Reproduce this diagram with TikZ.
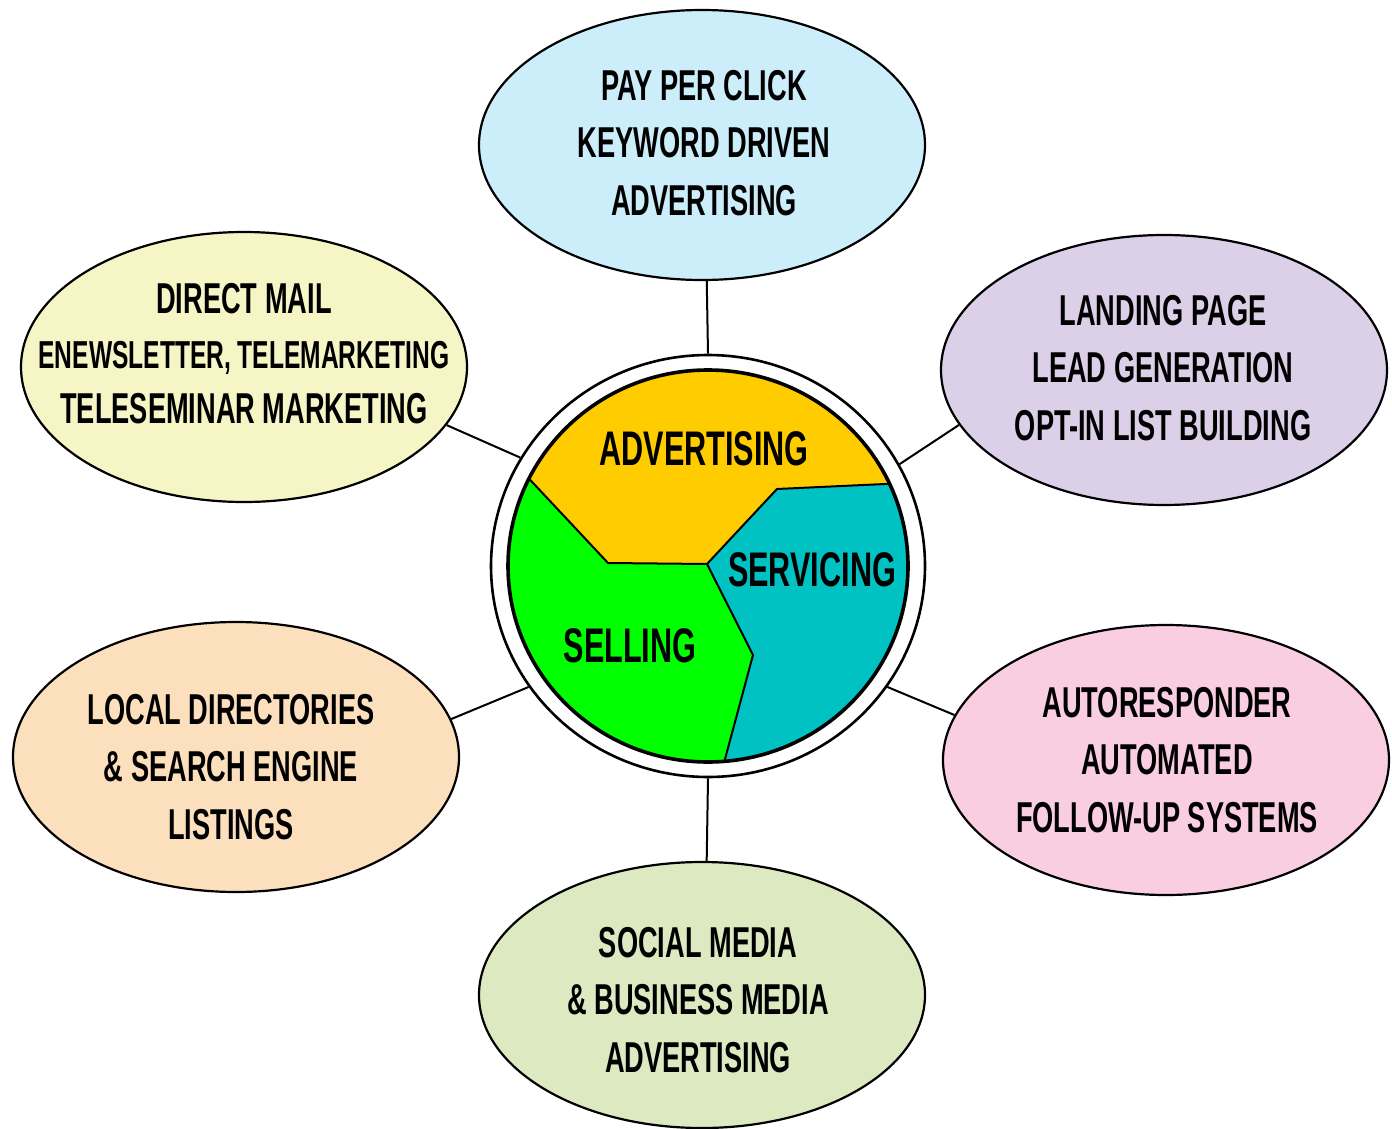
\documentclass[tikz,border=0pt]{standalone}
\usepackage{fontspec}
\newfontfamily\cf[FakeStretch=0.63]{Liberation Sans}
\usetikzlibrary{shapes.geometric}
\definecolor{cTop}{HTML}{CCEEFB}
\definecolor{cUL}{HTML}{F5F5C5}
\definecolor{cUR}{HTML}{DCD0E8}
\definecolor{cLL}{HTML}{FCE0BE}
\definecolor{cLR}{HTML}{F9CEE0}
\definecolor{cBot}{HTML}{DDE9C1}
\definecolor{cAdv}{HTML}{FFCC00}
\definecolor{cServ}{HTML}{00C2C2}
\definecolor{cSell}{HTML}{00FF00}
\tikzset{
 bubble/.style={ellipse, draw=black, line width=1.1pt, inner sep=0pt, minimum width=223pt, minimum height=135pt},
 btext/.style={align=center, inner sep=0pt, font=\cf\bfseries\fontsize{21.6}{28.75}\selectfont},
 hubtext/.style={inner sep=0pt, font=\cf\bfseries\fontsize{24.3}{28}\selectfont},
 link/.style={line width=1pt},
 divider/.style={line width=1pt, line join=round}
}
\begin{document}
\begin{tikzpicture}[x=0.5pt,y=-0.5pt]
\useasboundingbox (0,0) rectangle (1392,1129);
% outer bubbles
\node[bubble, fill=cTop] (top) at (702,145) {};
\node[bubble, fill=cUL] (ul) at (244,367) {};
\node[bubble, fill=cUR] (ur) at (1164,370) {};
\node[bubble, fill=cLL] (ll) at (236,757) {};
\node[bubble, fill=cLR] (lr) at (1166,760) {};
\node[bubble, fill=cBot, minimum height=133pt] (bot) at (702,995) {};
% hub
\node[ellipse, draw=black, line width=1.3pt, fill=white, inner sep=0pt, minimum width=217pt, minimum height=211pt] (hub) at (708,566) {};
% pie
\begin{scope}
\clip (708,566) ellipse [x radius=200, y radius=196];
\fill[cAdv] (500,360) rectangle (920,780);
\fill[cSell] (490,437) -- (608,563) -- (707,564) -- (753,655) -- (714,800) -- (460,800) -- (460,437) -- cycle;
\fill[cServ] (707,564) -- (777,489) -- (885,484) -- (940,481) -- (940,800) -- (714,800) -- (753,655) -- cycle;
\draw[divider] (490,437) -- (608,563) -- (707,564) -- (777,489) -- (885,484) -- (940,481);
\draw[divider] (707,564) -- (753,655) -- (714,800);
\end{scope}
\draw[line width=1.8pt] (708,566) ellipse [x radius=200, y radius=196];
% connectors
\draw[link] (top.-88) -- (hub.90);
\draw[link] (bot.88) -- (hub.-90);
\draw[link] (ul.-16.7) -- (hub.150.6);
\draw[link] (ur.195.2) -- (hub.28.9);
\draw[link] (ll.10.7) -- (hub.214.4);
\draw[link] (lr.168.3) -- (hub.-34.6);
% texts
\node[btext] (ttop) at (704,143) {PAY PER CLICK\\KEYWORD DRIVEN\\ADVERTISING};
\node[btext, font=\cf\bfseries\fontsize{21.6}{27.5}\selectfont] (tul) at (244,354) {DIRECT MAIL\\{\fontsize{19.5}{27.5}\selectfont ENEWSLETTER, TELEMARKETING}\\TELESEMINAR MARKETING};
\node[btext] (tur) at (1163,368) {LANDING PAGE\\LEAD GENERATION\\OPT-IN LIST BUILDING};
\node[btext] (tll) at (231,767) {LOCAL DIRECTORIES\\\& SEARCH ENGINE\\LISTINGS};
\node[btext] (tlr) at (1167,760) {AUTORESPONDER\\AUTOMATED\\FOLLOW-UP SYSTEMS};
\node[btext] (tbot) at (698,1000) {SOCIAL MEDIA\\\& BUSINESS MEDIA\\ADVERTISING};
\node[hubtext] (tadv) at (704,449) {ADVERTISING};
\node[hubtext] (tserv) at (812,570) {SERVICING};
\node[hubtext] (tsell) at (630,646) {SELLING};
\end{tikzpicture}
\end{document}
